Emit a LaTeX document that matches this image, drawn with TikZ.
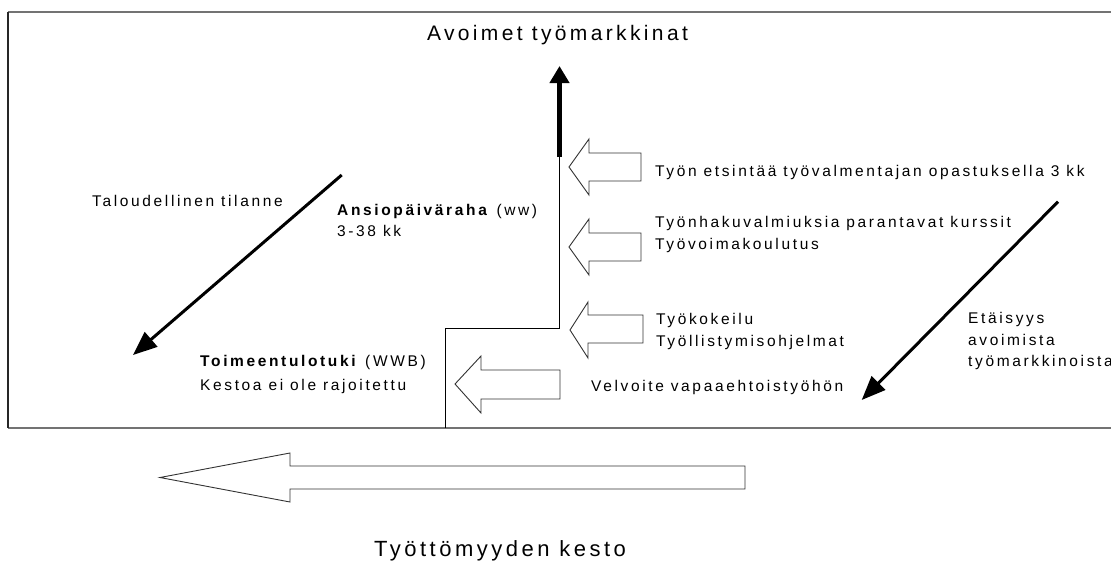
\documentclass[tikz,border=0pt]{standalone}
\usepackage{fontspec}
\setmainfont{Liberation Sans}
\newfontfamily\txtfont{Liberation Sans}[LetterSpace=17]
\newfontfamily\ttlfont{Liberation Sans}[LetterSpace=16]
\usetikzlibrary{arrows.meta}
\begin{document}
\begin{tikzpicture}[x=1pt,y=-1pt,
  frameline/.style={line width=1.4pt, draw=black!55},
  frameside/.style={line width=1.4pt, draw=black!85},
  blockarrow/.style={draw=black!80, line width=0.9pt, fill=white, line join=miter},
  stepline/.style={draw=black, line width=0.9pt},
  lbl/.style={inner sep=0pt, anchor=base west, font=\txtfont\fontsize{15.5}{18}\selectfont},
  ttl/.style={inner sep=0pt, anchor=base, font=\ttlfont\fontsize{21}{24}\selectfont},
  diag/.style={line width=3pt, -{Triangle[length=24pt,width=19pt]}},
]
\useasboundingbox (0,0) rectangle (1111,560);

% frame of the upper panel (open to the right)
\draw[frameline] (8,12) -- (1111,12);
\draw[frameline] (8,428) -- (1111,428);
\draw[frameside] (8,12) -- (8,428);

% titles
\node[ttl] (open) at (557.5,40.7) {Avoimet työmarkkinat};
\node[ttl, font=\ttlfont\fontsize{22}{26}\selectfont] (duration) at (500,556) {Työttömyyden kesto};

% benefit path: step line and thick arrow towards the open labour market
\coordinate (up0) at (559.5,157);
\coordinate (up1) at (559.5,66);
\coordinate (stepend) at (445,428);
\draw[stepline] (up0) -- (559.5,328) -| (stepend);
\draw[line width=4.5pt, -{Triangle[length=17pt,width=19pt]}] (up0) -- (up1);

% hollow arrows of the measures
\draw[blockarrow] (569,167) -- (589,139) -- (589,153) -- (641,153) -- (641,181) -- (589,181) -- (589,195) -- cycle;
\draw[blockarrow] (569,247) -- (589,219) -- (589,233) -- (641,233) -- (641,261) -- (589,261) -- (589,275) -- cycle;
\draw[blockarrow] (570,330) -- (588,302) -- (588,315) -- (643,315) -- (643,343) -- (588,343) -- (588,358) -- cycle;
\draw[blockarrow] (455,384) -- (481,356) -- (481,370) -- (560,370) -- (560,399) -- (481,399) -- (481,413) -- cycle;

% duration arrow
\draw[blockarrow] (160,477.5) -- (290,453) -- (290,466) -- (745,466) -- (745,489) -- (290,489) -- (290,502) -- cycle;

% measures
\node[lbl] (m1) at (655,176.7) {Työn etsintää työvalmentajan opastuksella 3 kk};
\node[lbl] (m2a) at (655,227) {Työnhakuvalmiuksia parantavat kurssit};
\node[lbl] (m2b) at (655,249) {Työvoimakoulutus};
\node[lbl] (m3a) at (656,324) {Työkokeilu};
\node[lbl] (m3b) at (656,346) {Työllistymisohjelmat};
\node[lbl] (m4) at (591,391.7) {Velvoite vapaaehtoistyöhön};

% benefits
\node[lbl] (ww1) at (337,215) {\textbf{Ansiopäiväraha} (ww)};
\node[lbl] (ww2) at (337,236.7) {3-38 kk};
\node[lbl] (wwb1) at (200,366.7) {\textbf{Toimeentulotuki} (WWB)};
\node[lbl] (wwb2) at (200,390) {Kestoa ei ole rajoitettu};

% diagonal arrows
\node[lbl] (econ) at (92,206) {Taloudellinen tilanne};
\coordinate (econ0) at (341.7,175);
\coordinate (econ1) at (133,355);
\draw[diag] (econ0) -- (econ1);

\node[lbl] (dist1) at (968,323) {Etäisyys};
\node[lbl] (dist2) at (968,345) {avoimista};
\node[lbl] (dist3) at (968,366.7) {työmarkkinoista};
\coordinate (dist0) at (1058,201.7);
\coordinate (distend) at (861.7,400);
\draw[diag] (dist0) -- (distend);
\end{tikzpicture}
\end{document}
